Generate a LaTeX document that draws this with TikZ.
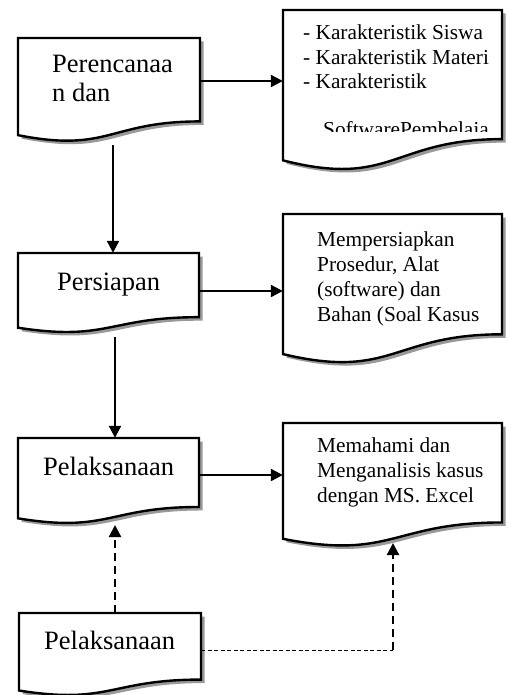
\documentclass[tikz,border=0pt]{standalone}
\usepackage{fontspec}
\setmainfont{Liberation Serif}
\usetikzlibrary{arrows.meta,fit,calc}
\tikzset{
  boxline/.style={line width=2.4pt, line join=miter, fill=white},
  boxshadow/.style={fill=black!40},
  arr/.style={line width=2.2pt, -{Triangle[length=12pt,width=12pt]}},
  darr/.style={line width=2.2pt, dash pattern=on 8pt off 5pt, -{Triangle[length=12pt,width=12pt]}},
  thindash/.style={line width=1pt, dash pattern=on 4pt off 2.5pt},
  bigtxt/.style={font=\fontsize{26.5}{29}\selectfont, inner sep=0pt, anchor=base west},
  smalltxt/.style={font=\fontsize{21.3}{25}\selectfont, inner sep=0pt, anchor=base west},
  hold/.style={inner sep=0pt, draw=none},
}
% name, x left, y top, x right, height
\newcommand{\mydocbox}[5]{%
  \pgfmathsetmacro\xa{#2}\pgfmathsetmacro\ya{#3}\pgfmathsetmacro\xb{#4}%
  \pgfmathsetmacro\yr{#3+0.802*#5}\pgfmathsetmacro\yl{#3+0.934*#5}%
  \pgfmathsetmacro\yc{#3+1.1075*#5}\pgfmathsetmacro\xm{(#2+#4)/2}%
  \fill[boxshadow] (\xa+3.5,\ya+3.5) -- (\xb+3.5,\ya+3.5) -- (\xb+3.5,\yr+3.5)
     .. controls (\xm+3.5,\yr+3.5) and (\xm+3.5,\yc+3.5) .. (\xa+3.5,\yl+3.5) -- cycle;
  \draw[boxline] (\xa,\ya) -- (\xb,\ya) -- (\xb,\yr)
     .. controls (\xm,\yr) and (\xm,\yc) .. (\xa,\yl) -- cycle;
  \coordinate (#1-nw) at (\xa,\ya);
  \coordinate (#1-se) at (\xb,\yr);
  \node[hold, fit=(#1-nw)(#1-se)] (#1) {};
}
\begin{document}
\begin{tikzpicture}[x=1pt,y=-1pt]
\useasboundingbox (0,0) rectangle (508,695);
\fill[white] (0,0) rectangle (508,695);

% boxes
\mydocbox{b1}{18}{38}{200}{104}
\mydocbox{b2}{283}{10}{502}{161}
\mydocbox{b3}{18}{253}{199}{80}
\mydocbox{b4}{283}{214}{502}{150}
\mydocbox{b5}{18}{438}{199}{86}
\mydocbox{b6}{283}{423}{502}{124}
\mydocbox{b7}{19}{613}{201}{83}

% texts
\node[bigtxt] (t1a) at (52,73) {Perencanaa};
\node[bigtxt] (t1b) at (52,102) {n dan};

\node[smalltxt] (t2a) at (303,40) {- Karakteristik Siswa};
\node[smalltxt] (t2b) at (303,65) {- Karakteristik Materi};
\node[smalltxt] (t2c) at (303,89) {- Karakteristik};
\begin{scope}
  \clip (284,100) rectangle (500,132);
  \node[smalltxt] (t2d) at (323,137) {SoftwarePembelaja};
\end{scope}

\node[bigtxt] (t3) at (57,290) {Persiapan};

\node[smalltxt] (t4a) at (317,246) {Mempersiapkan};
\node[smalltxt] (t4b) at (317,271) {Prosedur, Alat};
\node[smalltxt] (t4c) at (317,296) {(software) dan};
\node[smalltxt] (t4d) at (317,321) {Bahan (Soal Kasus};

\node[bigtxt] (t5) at (43,475) {Pelaksanaan};

\node[smalltxt] (t6a) at (317,452) {Memahami dan};
\node[smalltxt] (t6b) at (317,477) {Menganalisis kasus};
\node[smalltxt] (t6c) at (317,502) {dengan MS. Excel};

\node[bigtxt] (t7) at (44,649) {Pelaksanaan};

% connector end points
\coordinate (c1) at (200,81);
\coordinate (c2) at (113,145);
\coordinate (c3) at (199,291);
\coordinate (c4) at (115,337);
\coordinate (c5) at (199,475);
\coordinate (c6) at (115,525);
\coordinate (c7) at (201,650);
\coordinate (c8) at (393,650);
\coordinate (c9) at (393,543);

% connectors
\draw[arr] (c1) -- (c1 -| b2.west);
\draw[arr] (c2) -- (c2 |- b3.north);
\draw[arr] (c3) -- (c3 -| b4.west);
\draw[arr] (c4) -- (c4 |- b5.north);
\draw[arr] (c5) -- (c5 -| b6.west);
\draw[darr] (c6 |- b7.north) -- (c6);
\draw[thindash] (c7) -- (c8);
\draw[darr] (c8) -- (c9);
\end{tikzpicture}
\end{document}
